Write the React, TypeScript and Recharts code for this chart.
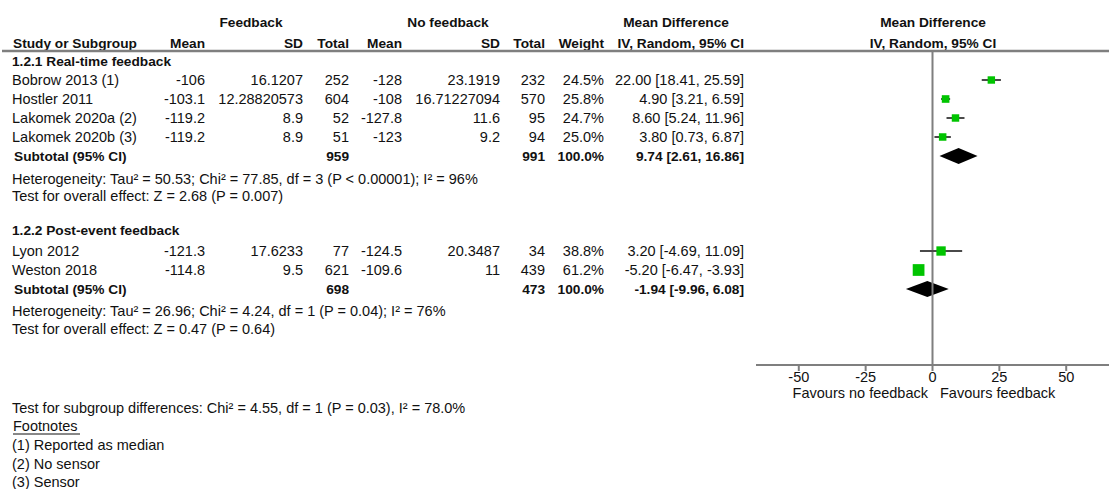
import {
  ComposedChart, Scatter, Area, ErrorBar, XAxis, YAxis, ReferenceLine, Customized,
} from 'recharts'

// study rows
const studyNames = ['Bobrow 2013 (1)', 'Hostler 2011', 'Lakomek 2020a (2)', 'Lakomek 2020b (3)', 'Lyon 2012', 'Weston 2018']
const fbMean = [-106, -103.1, -119.2, -119.2, -121.3, -114.8]
const fbSd = [16.1207, 12.28820573, 8.9, 8.9, 17.6233, 9.5]
const fbTotal = [252, 604, 52, 51, 77, 621]
const nfMean = [-128, -108, -127.8, -123, -124.5, -109.6]
const nfSd = [23.1919, 16.71227094, 11.6, 9.2, 20.3487, 11]
const nfTotal = [232, 570, 95, 94, 34, 439]
const weights = [24.5, 25.8, 24.7, 25.0, 38.8, 61.2]
const md = [22.0, 4.9, 8.6, 3.8, 3.2, -5.2]
const ciLow = [18.41, 3.21, 5.24, 0.73, -4.69, -6.47]
const ciHigh = [25.59, 6.59, 11.96, 6.87, 11.09, -3.93]
const studyRows = [1, 2, 3, 4, 10, 11]

// subgroup pooled estimates
const groupTitles = ['1.2.1 Real-time feedback', '1.2.2 Post-event feedback']
const groupTitleRows = [0, 8.9]
const subRows = [5, 12]
const subFbTotal = [959, 698]
const subNfTotal = [991, 473]
const subMd = [9.74, -1.94]
const subLow = [2.61, -9.96]
const subHigh = [16.86, 6.08]
const hetText = [
  'Heterogeneity: Tau² = 50.53; Chi² = 77.85, df = 3 (P < 0.00001); I² = 96%',
  'Heterogeneity: Tau² = 26.96; Chi² = 4.24, df = 1 (P = 0.04); I² = 76%',
]
const hetRows = [6.2, 13.15]
const effectText = [
  'Test for overall effect: Z = 2.68 (P = 0.007)',
  'Test for overall effect: Z = 0.47 (P = 0.64)',
]
const effectRows = [7.1, 14.1]

const xTicks = [-50, -25, 0, 25, 50]
const footnotes = ['(1) Reported as median', '(2) No sensor', '(3) Sensor']

const W = 1109
const H = 489
const FONT = '"Liberation Sans", Arial, sans-serif'
const FS = 14.5
const FS_BOLD = 13.7
const GRID = '#7f7f7f'
const DIAMOND_HALF = 0.42

const rowY = (r: number) => 61 + 19 * r
const ci = (m: number, l: number, h: number) => `${m.toFixed(2)} [${l.toFixed(2)}, ${h.toFixed(2)}]`

const studies = studyNames.map((name, i) => ({
  name,
  x: md[i],
  row: studyRows[i],
  weight: weights[i],
  err: [md[i] - ciLow[i], ciHigh[i] - md[i]],
}))

const diamonds = subRows.map((r, i) => [
  { x: subLow[i], band: [r, r] },
  { x: subMd[i], band: [r - DIAMOND_HALF, r + DIAMOND_HALF] },
  { x: subHigh[i], band: [r, r] },
])

function WeightSquare(props: any) {
  const { cx, cy, payload } = props
  if (cx == null || cy == null) return null
  const s = 1.5 * Math.sqrt(payload.weight)
  return <rect x={cx - s / 2} y={cy - s / 2} width={s} height={s} fill="#00c400" />
}

function T({ x, y, anchor = 'start', bold = false, children }: any) {
  return (
    <text x={x} y={y} textAnchor={anchor} dominantBaseline="central"
      fontFamily={FONT} fontSize={bold ? FS_BOLD : FS} fontWeight={bold ? 700 : 400} fill="#111">
      {children}
    </text>
  )
}

function TableText() {
  return (
    <g>
      <T x={251} y={22} anchor="middle" bold>Feedback</T>
      <T x={448} y={22} anchor="middle" bold>No feedback</T>
      <T x={676} y={22} anchor="middle" bold>Mean Difference</T>
      <T x={933} y={22} anchor="middle" bold>Mean Difference</T>

      <T x={13} y={43} bold>Study or Subgroup</T>
      <T x={205} y={43} anchor="end" bold>Mean</T>
      <T x={303} y={43} anchor="end" bold>SD</T>
      <T x={349} y={43} anchor="end" bold>Total</T>
      <T x={402} y={43} anchor="end" bold>Mean</T>
      <T x={500} y={43} anchor="end" bold>SD</T>
      <T x={545} y={43} anchor="end" bold>Total</T>
      <T x={604} y={43} anchor="end" bold>Weight</T>
      <T x={744} y={43} anchor="end" bold>IV, Random, 95% CI</T>
      <T x={933} y={43} anchor="middle" bold>IV, Random, 95% CI</T>
      <line x1={2} x2={W} y1={51} y2={51} stroke={GRID} strokeWidth={2.5} />

      {groupTitles.map((t, i) => (
        <T key={t} x={12} y={rowY(groupTitleRows[i])} bold>{t}</T>
      ))}

      {studyNames.map((n, i) => {
        const y = rowY(studyRows[i])
        return (
          <g key={n}>
            <T x={12} y={y}>{n}</T>
            <T x={205} y={y} anchor="end">{fbMean[i]}</T>
            <T x={303} y={y} anchor="end">{fbSd[i]}</T>
            <T x={349} y={y} anchor="end">{fbTotal[i]}</T>
            <T x={402} y={y} anchor="end">{nfMean[i]}</T>
            <T x={500} y={y} anchor="end">{nfSd[i]}</T>
            <T x={545} y={y} anchor="end">{nfTotal[i]}</T>
            <T x={604} y={y} anchor="end">{weights[i].toFixed(1)}%</T>
            <T x={744} y={y} anchor="end">{ci(md[i], ciLow[i], ciHigh[i])}</T>
          </g>
        )
      })}

      {subRows.map((r, i) => {
        const y = rowY(r)
        return (
          <g key={r}>
            <T x={14} y={y} bold>Subtotal (95% CI)</T>
            <T x={349} y={y} anchor="end" bold>{subFbTotal[i]}</T>
            <T x={545} y={y} anchor="end" bold>{subNfTotal[i]}</T>
            <T x={604} y={y} anchor="end" bold>100.0%</T>
            <T x={744} y={y} anchor="end" bold>{ci(subMd[i], subLow[i], subHigh[i])}</T>
            <T x={12} y={rowY(hetRows[i])}>{hetText[i]}</T>
            <T x={12} y={rowY(effectRows[i])}>{effectText[i]}</T>
          </g>
        )
      })}

      <T x={928} y={393} anchor="end">Favours no feedback</T>
      <T x={940} y={393}>Favours feedback</T>

      <T x={12} y={408}>Test for subgroup differences: Chi² = 4.55, df = 1 (P = 0.03), I² = 78.0%</T>
      <T x={13} y={426}>Footnotes</T>
      <line x1={13} x2={80} y1={434} y2={434} stroke="#111" strokeWidth={1} />
      {footnotes.map((f, i) => (
        <T key={f} x={12} y={445 + i * 18.7}>{f}</T>
      ))}
    </g>
  )
}

export default function App() {
  return (
    <div style={{ position: 'absolute', left: 0, top: 0, width: W, height: H, background: '#fff' }}>
      <ComposedChart width={W} height={H} margin={{ top: 51, right: 0, bottom: 94, left: 756 }}>
        <XAxis
          type="number"
          dataKey="x"
          domain={[-66, 66]}
          allowDataOverflow
          ticks={xTicks}
          height={30}
          axisLine={{ stroke: GRID, strokeWidth: 2 }}
          tickLine={{ stroke: GRID, strokeWidth: 2 }}
          tickSize={6}
          tickMargin={1}
          tick={{ fontSize: FS, fill: '#111', fontFamily: FONT }}
        />
        <YAxis type="number" dataKey="row" domain={[-10 / 19, 16]} reversed allowDataOverflow hide />
        <ReferenceLine x={0} stroke={GRID} strokeWidth={2} />
        {diamonds.map((d, i) => (
          <Area
            key={i}
            data={d}
            dataKey="band"
            type="linear"
            fill="#000"
            fillOpacity={1}
            stroke="none"
            isAnimationActive={false}
          />
        ))}
        <Scatter data={studies} shape={WeightSquare} isAnimationActive={false}>
          <ErrorBar dataKey="err" direction="x" width={0} stroke="#4a4a4a" strokeWidth={2} />
        </Scatter>
        <Customized component={<TableText />} />
      </ComposedChart>
    </div>
  )
}
